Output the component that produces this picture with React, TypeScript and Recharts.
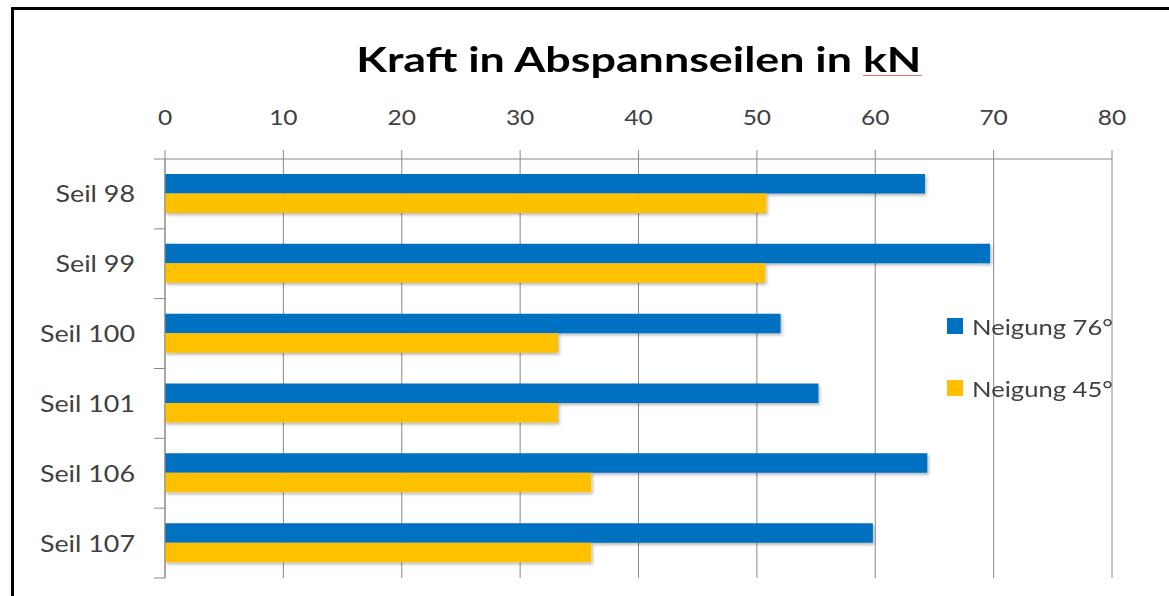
import { Bar, BarChart, CartesianGrid, Legend, XAxis, YAxis } from "recharts"

// Seile (categories, top to bottom)
const seile = ["Seil 98", "Seil 99", "Seil 100", "Seil 101", "Seil 106", "Seil 107"]
// Kraft in kN
const neigung76 = [64.2, 69.7, 52.0, 55.2, 64.4, 59.8]
const neigung45 = [50.8, 50.7, 33.2, 33.2, 36.0, 36.0]
const xTicks = [0, 10, 20, 30, 40, 50, 60, 70, 80]

const series = [
  { key: "n76", name: "Neigung 76°", color: "#0070C0" },
  { key: "n45", name: "Neigung 45°", color: "#FFC000" },
]

const data = seile.map((name, i) => ({ name, n76: neigung76[i], n45: neigung45[i] }))

const FONT = "Lato, 'Open Sans', sans-serif"
const GRID = "#8a8a8a"
const TEXT = "#404040"
const CAT_MARGIN = 30
const CAT_TICK = 11

// the source is stretched sideways, so text gets a horizontal scale
const XTick = ({ x, y, payload }: any) => (
  <g transform={`translate(${x},${y})`}>
    <text transform="scale(1.17,1)" textAnchor="middle" fill={TEXT} fontSize={21} fontFamily={FONT}>
      {payload.value}
    </text>
  </g>
)

// category label plus the little tick marks between categories
const CatTick = ({ x, y, payload, index, visibleTicksCount }: any) => {
  const half = payload.offset ?? 34.9
  const ax = x + CAT_MARGIN
  const last = index === (visibleTicksCount ?? seile.length) - 1
  return (
    <g>
      <line x1={ax - CAT_TICK} x2={ax} y1={y - half} y2={y - half} stroke={GRID} />
      {last && <line x1={ax - CAT_TICK} x2={ax} y1={y + half} y2={y + half} stroke={GRID} />}
      <g transform={`translate(${x},${y})`}>
        <text transform="scale(1.12,1)" textAnchor="end" dy="0.355em" fill={TEXT} fontSize={24} fontFamily={FONT}>
          {payload.value}
        </text>
      </g>
    </g>
  )
}

function LegendBox() {
  return (
    <div style={{ fontFamily: FONT, fontSize: 21, color: TEXT }}>
      {series.map((s, i) => (
        <div key={s.key} style={{ display: "flex", alignItems: "center", height: 24, marginTop: i === 0 ? 0 : 38 }}>
          <span style={{ display: "inline-block", width: 16, height: 16, background: s.color, marginRight: 9 }} />
          <span style={{ display: "inline-block", transform: "scaleX(1.22)", transformOrigin: "left center", whiteSpace: "nowrap" }}>
            {s.name}
          </span>
        </div>
      ))}
    </div>
  )
}

export default function App() {
  return (
    <div style={{ position: "absolute", left: 0, top: 0, width: 1169, height: 596, background: "#fff", overflow: "hidden" }}>
      <div
        style={{
          position: "absolute",
          left: 11,
          top: 7,
          width: 1169,
          height: 600,
          borderTop: "3px solid #000",
          borderLeft: "3px solid #000",
        }}
      />
      <div
        style={{
          position: "absolute",
          left: 0,
          top: 41,
          width: 1277,
          textAlign: "center",
          fontFamily: FONT,
          fontWeight: 700,
          fontSize: 35,
          lineHeight: "35px",
          color: "#000",
          whiteSpace: "nowrap",
        }}
      >
        <span style={{ display: "inline-block", transform: "scaleX(1.28)" }}>
          Kraft in Abspannseilen in{" "}
          <span style={{ display: "inline-block", lineHeight: "33px", borderBottom: "1px solid #e07070" }}>kN</span>
        </span>
      </div>
      <div style={{ position: "absolute", left: 0, top: 0 }}>
        <BarChart
          width={1169}
          height={596}
          data={data}
          layout="vertical"
          margin={{ top: 99, right: 57, bottom: 18, left: 15 }}
          barSize={19.5}
          barGap={0}
        >
          <defs>
            <filter id="barShadow" x="-5%" y="-30%" width="110%" height="180%">
              <feDropShadow dx="1.5" dy="2" stdDeviation="1.5" floodColor="#000" floodOpacity="0.28" />
            </filter>
          </defs>
          <CartesianGrid horizontal={false} stroke={GRID} />
          <XAxis
            type="number"
            orientation="top"
            domain={[0, 80]}
            ticks={xTicks}
            height={60}
            stroke={GRID}
            tickSize={9}
            tickMargin={25}
            tick={<XTick />}
          />
          <YAxis
            type="category"
            dataKey="name"
            width={150}
            stroke={GRID}
            tickLine={false}
            tickSize={0}
            tickMargin={CAT_MARGIN}
            tick={<CatTick />}
          />
          <Legend
            layout="vertical"
            align="center"
            verticalAlign="middle"
            wrapperStyle={{ left: 947, top: 314, width: 200 }}
            content={() => <LegendBox />}
          />
          {series.map((s) => (
            <Bar key={s.key} dataKey={s.key} name={s.name} fill={s.color} filter="url(#barShadow)" isAnimationActive={false} />
          ))}
        </BarChart>
      </div>
    </div>
  )
}
